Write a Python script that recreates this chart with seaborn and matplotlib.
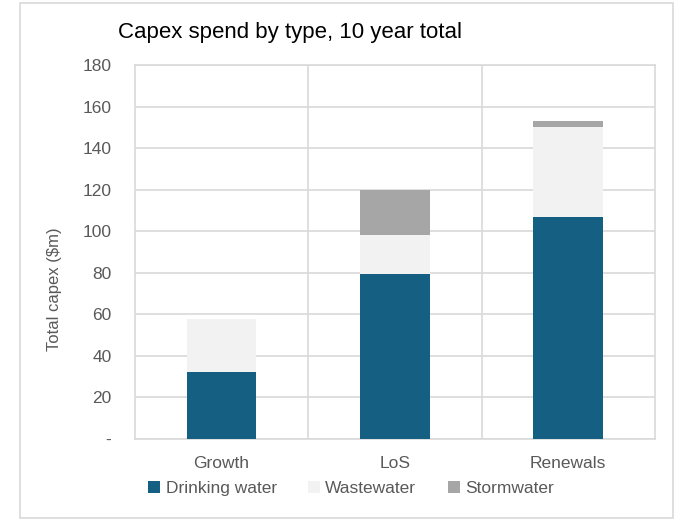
import matplotlib
matplotlib.use("Agg")
import matplotlib.pyplot as plt
from matplotlib.patches import Rectangle, Patch
import numpy as np
import pandas as pd
import seaborn as sns

# values ($m, 10 year total)
categories = ["Growth", "LoS", "Renewals"]
drinking_water = [32, 79.5, 107]
wastewater = [25.5, 18.5, 43]
stormwater = [0, 22, 3]
series_names = ["Drinking water", "Wastewater", "Stormwater"]
y_ticks = [0, 20, 40, 60, 80, 100, 120, 140, 160, 180]
y_tick_labels = ["-", "20", "40", "60", "80", "100", "120", "140", "160", "180"]

colors = {"Drinking water": "#155F83", "Wastewater": "#F2F2F2", "Stormwater": "#A6A6A6"}
text_gray = "#595959"

sns.set_theme(style="white")
plt.rcParams["font.family"] = ["Liberation Sans", "DejaVu Sans"]

df = pd.DataFrame({"category": categories,
                   "Drinking water": drinking_water,
                   "Wastewater": wastewater,
                   "Stormwater": stormwater})
# cumulative tops so the stack can be drawn back to front
df["top_dw"] = df["Drinking water"]
df["top_ww"] = df["top_dw"] + df["Wastewater"]
df["top_sw"] = df["top_ww"] + df["Stormwater"]

fig = plt.figure(figsize=(6.75, 5.2), dpi=100)
ax = fig.add_axes([0.2, 0.156, 0.77, 0.719])

for col, name in [("top_sw", "Stormwater"), ("top_ww", "Wastewater"), ("top_dw", "Drinking water")]:
    sns.barplot(data=df, x="category", y=col, color=colors[name], width=0.4,
                saturation=1, ax=ax, linewidth=0, zorder=3)

ax.set_ylim(0, 180)
ax.set_xlim(-0.5, 2.5)
ax.set_yticks(y_ticks)
ax.set_yticklabels(y_tick_labels)
ax.grid(axis="y", color="#D9D9D9", linewidth=1.2, zorder=0)
for xb in [0.5, 1.5]:
    ax.axvline(xb, color="#D9D9D9", linewidth=1.2, zorder=0)
for s in ax.spines.values():
    s.set_color("#D9D9D9")
    s.set_linewidth(1.2)
ax.tick_params(axis="both", length=0, labelsize=12.5, colors=text_gray)
ax.tick_params(axis="y", pad=17)
ax.tick_params(axis="x", pad=12)
ax.set_xlabel("")
ax.set_ylabel("Total capex ($m)", fontsize=12, color=text_gray)
ax.yaxis.set_label_coords(-0.14, 0.4)

fig.text(0.175, 0.938, "Capex spend by type, 10 year total", fontsize=16,
         color="#000000", va="center", ha="left")

handles = [Patch(facecolor=colors[n], edgecolor="none") for n in series_names]
fig.legend(handles, series_names, loc="center", bbox_to_anchor=(0.52, 0.06), ncol=3,
           frameon=False, fontsize=12.5, handlelength=0.7, handleheight=0.7,
           handletextpad=0.3, columnspacing=1.8, labelcolor=text_gray)

fig.patches.append(Rectangle((0.029, 0.004), 0.968, 0.99, transform=fig.transFigure,
                             fill=False, edgecolor="#D9D9D9", linewidth=1.2))

fig.savefig("out.png", dpi=100)
